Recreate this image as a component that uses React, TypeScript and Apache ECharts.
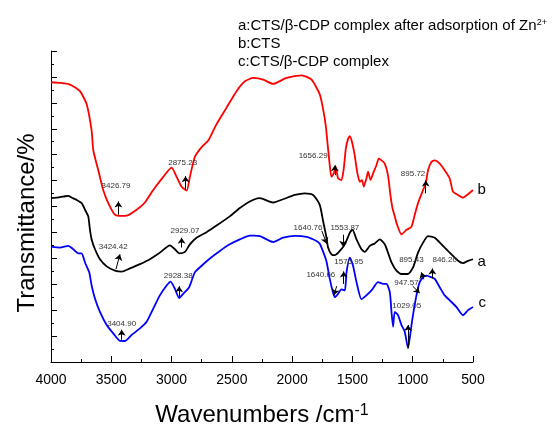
import React, { useEffect, useRef } from 'react';
import * as echarts from 'echarts';

// Wavenumber (cm-1) and transmittance (arbitrary offset units)
const redWave = [4000,3925,3843,3760,3704,3663,3649,3608,3567,3525,3470,3414,3373,3290,3221,3152,3069,3000,2958,2917,2875,2848,2807,2751,2696,2627,2544,2461,2392,2323,2241,2158,2047,1922,1839,1771,1743,1721,1702,1688,1674,1655,1638,1619,1591,1572,1555,1536,1522,1503,1481,1461,1439,1420,1406,1384,1370,1350,1329,1301,1282,1259,1232,1205,1185,1168,1149,1132,1093,1052,1011,983,956,914,892,873,845,817,776,735,693,666,624,583,541,500];
const redT = [21.59,21.54,21.41,20.90,19.89,17.85,16.32,14.80,13.27,12.26,11.37,11.27,11.29,11.75,12.31,13.27,14.29,15.00,14.29,13.53,13.23,14.29,15.82,16.58,17.09,18.36,19.63,20.90,21.66,21.92,21.79,21.46,21.92,22.12,21.79,20.65,19.50,18.23,16.45,15.18,14.29,14.55,15.06,14.16,14.04,14.93,16.45,17.22,17.42,16.96,15.94,14.68,13.91,14.04,13.53,14.16,14.68,14.04,14.55,15.18,15.69,15.56,15.31,14.42,12.89,11.88,11.24,10.66,9.84,10.20,10.43,11.37,12.26,13.27,13.78,14.80,15.44,15.56,15.31,14.80,14.16,13.15,12.89,12.69,12.95,13.27];

const blackWave = [4000,3925,3884,3857,3826,3787,3746,3718,3691,3677,3663,3635,3594,3538,3470,3414,3345,3262,3180,3097,3014,2972,2937,2889,2848,2793,2710,2627,2517,2434,2351,2268,2158,2075,1978,1895,1826,1771,1743,1715,1702,1674,1646,1605,1563,1522,1500,1466,1425,1398,1356,1315,1273,1232,1205,1176,1135,1093,1039,997,956,914,873,817,749,679,624,583,541,500];
const blackT = [12.64,12.72,12.79,12.82,12.68,12.51,12.26,11.75,11.24,10.22,9.46,8.70,7.93,7.38,7.05,6.97,7.22,7.55,7.93,8.44,9.00,8.70,8.39,8.50,9.08,9.59,10.02,10.53,11.24,11.88,12.39,12.64,12.31,12.56,12.89,13.02,12.89,12.13,10.86,9.59,8.83,8.31,8.24,8.57,9.08,9.97,10.22,9.46,8.70,8.50,8.96,9.15,9.46,9.08,8.44,7.68,7.05,6.79,6.79,7.30,8.44,9.21,9.72,9.59,8.96,8.31,7.81,7.63,7.81,7.93];

const blueWave = [4000,3925,3857,3815,3774,3746,3718,3683,3663,3635,3594,3538,3484,3428,3387,3331,3262,3207,3152,3097,3041,3008,2972,2937,2904,2854,2807,2751,2682,2599,2517,2434,2351,2268,2158,2075,1978,1881,1798,1771,1743,1715,1688,1660,1646,1619,1591,1563,1549,1522,1495,1466,1425,1384,1342,1287,1246,1218,1190,1176,1163,1149,1122,1093,1066,1039,1025,1002,969,942,914,886,845,817,776,735,693,638,583,541,500];
const blueT = [8.90,8.83,8.96,8.70,8.39,8.39,7.68,6.92,5.90,4.88,3.87,2.85,2.21,1.63,1.62,2.09,2.59,3.10,4.12,5.14,5.90,6.21,5.64,4.94,5.26,5.77,6.92,7.43,7.99,8.57,9.08,9.46,9.76,9.72,9.26,9.59,9.74,9.66,9.34,9.13,8.52,7.76,6.41,5.32,5.01,5.26,5.60,5.52,6.92,8.06,7.43,6.16,4.84,5.14,5.52,6.16,6.03,6.03,5.39,3.87,2.72,3.87,3.62,2.85,2.34,1.07,1.83,3.36,5.14,6.16,6.54,6.67,6.54,6.41,5.77,5.14,4.76,4.25,3.62,4.00,4.25];

// Peak labels: [text, wavenumber, transmittance]
const redPeaks: [string, number, number][] = [['3426.79', 3461, 13.61], ['2875.23', 2908, 15.36], ['1656.29', 1826, 15.94], ['895.72', 997, 14.54]];
const blackPeaks: [string, number, number][] = [['3424.42', 3484, 8.95], ['2929.07', 2889, 10.17], ['1640.76', 1868, 10.35], ['1553.87', 1563, 10.39], ['895.43', 1011, 7.93], ['846.20', 735, 7.93]];
const bluePeaks: [string, number, number][] = [['3404.90', 3414, 2.97], ['2928.38', 2945, 6.71], ['1640.66', 1762, 6.76], ['1576.95', 1531, 7.73], ['947.57', 1052, 6.16], ['1029.05', 1050, 4.38]];

// Arrows: [w1, t1, w2, t2] (head at second point)
const redArrows = [[3441, 11.37, 3441, 12.39], [2884, 13.27, 2884, 14.34], [1646, 14.42, 1646, 15.18], [892, 13.02, 892, 14.01]];
const blackArrows = [[3461, 7.17, 3428, 8.31], [2917, 8.83, 2917, 9.59], [1754, 10.12, 1713, 9.13], [1577, 9.82, 1577, 8.90], [909, 6.38, 929, 6.92], [837, 6.46, 837, 7.22]];
const blueArrows = [[3414, 1.71, 3414, 2.49], [2937, 4.94, 2937, 5.85], [1630, 5.85, 1655, 5.16], [1572, 6.03, 1572, 6.99], [1000, 5.85, 942, 5.32], [1039, 1.07, 1039, 2.85]];

const legendLines = ['a:CTS/β-CDP complex after adsorption of Zn{sup|2+}', 'b:CTS', 'c:CTS/β-CDP complex'];

const FONT = '"Liberation Sans", Arial, Helvetica, sans-serif';

function pairs(w: number[], t: number[]) {
  return w.map((x, i) => [x, t[i]]);
}

function peakMarks(list: [string, number, number][], curveName: string, endW: number, endT: number, endOffset: number[]) {
  return {
    symbol: 'circle',
    symbolSize: 1,
    silent: true,
    itemStyle: { color: 'rgba(0,0,0,0)' },
    label: { show: true, position: 'inside', fontSize: 8, color: '#333', fontFamily: FONT, formatter: (p: any) => p.name },
    data: [
      ...list.map(([text, w, t]) => ({ name: text, coord: [w, t] })),
      {
        name: curveName,
        coord: [endW, endT],
        label: { position: 'right', distance: 4, fontSize: 15, color: '#000', fontFamily: FONT, offset: endOffset },
      },
    ],
  };
}

function arrowMarks(list: number[][]) {
  return {
    silent: true,
    symbol: ['none', 'arrow'],
    symbolSize: 6,
    lineStyle: { color: '#000', width: 1, type: 'solid' },
    label: { show: false },
    emphasis: { disabled: true },
    data: list.map(([w1, t1, w2, t2]) => [{ coord: [w1, t1] }, { coord: [w2, t2] }]),
  };
}

function makeSeries(name: string, w: number[], t: number[], color: string, peaks: any, arrows: any, endOffset: number[]) {
  return {
    type: 'line',
    name,
    data: pairs(w, t),
    showSymbol: false,
    symbol: 'none',
    smooth: 0.2,
    lineStyle: { color, width: 1.8 },
    itemStyle: { color },
    emphasis: { disabled: true },
    markPoint: peakMarks(peaks, name, w[w.length - 1], t[t.length - 1], endOffset),
    markLine: arrowMarks(arrows),
  };
}

export default function App() {
  const ref = useRef<HTMLDivElement>(null);
  useEffect(() => {
    if (!ref.current) return;
    const chart = echarts.init(ref.current, null, { renderer: 'svg' });
    chart.setOption({
      animation: false,
      textStyle: { fontFamily: FONT },
      grid: { left: 51, right: 80, top: 51, bottom: 64 },
      xAxis: {
        type: 'value',
        inverse: true,
        min: 500,
        max: 4000,
        interval: 500,
        name: 'Wavenumbers /cm{sup|-1}',
        nameLocation: 'middle',
        nameGap: 39,
        nameTextStyle: {
          fontSize: 24, color: '#000', fontFamily: FONT,
          rich: { sup: { fontSize: 16, color: '#000', fontFamily: FONT, verticalAlign: 'top' } },
        },
        axisLine: { lineStyle: { color: '#000', width: 1 } },
        axisTick: { inside: true, length: 6, lineStyle: { color: '#000' } },
        minorTick: { show: true, splitNumber: 2, length: 3, lineStyle: { color: '#000' } },
        axisLabel: { fontSize: 14, color: '#000', margin: 10, fontFamily: FONT, formatter: (v: number) => String(v) },
        splitLine: { show: false },
      },
      yAxis: {
        type: 'value',
        min: 0,
        max: 24,
        interval: 2,
        axisLine: { show: true, lineStyle: { color: '#000', width: 1 } },
        axisTick: { show: true, inside: true, length: 6, lineStyle: { color: '#000' } },
        minorTick: { show: true, splitNumber: 2, length: 3, lineStyle: { color: '#000' } },
        axisLabel: { show: false },
        splitLine: { show: false },
      },
      series: [
        makeSeries('b', redWave, redT, '#ff0000', redPeaks, redArrows, [0, -2]),
        makeSeries('a', blackWave, blackT, '#000000', blackPeaks, blackArrows, [0, 1.5]),
        makeSeries('c', blueWave, blueT, '#0000ff', bluePeaks, blueArrows, [1, -5]),
      ],
      graphic: [
        ...legendLines.map((txt, i) => ({
          type: 'text',
          x: 238,
          y: 24.5 + i * 18,
          style: {
            text: txt,
            fontSize: 15,
            fontFamily: FONT,
            fill: '#000',
            verticalAlign: 'middle',
            rich: { sup: { fontSize: 9, fontFamily: FONT, fill: '#000', verticalAlign: 'top' } },
          },
        })),
        {
          type: 'text',
          x: 25,
          y: 223,
          rotation: Math.PI / 2,
          style: { text: 'Transmittance/%', fontSize: 24, fontFamily: FONT, fill: '#000', align: 'center', verticalAlign: 'middle' },
        },
      ],
    });
    return () => chart.dispose();
  }, []);
  return <div ref={ref} style={{ position: 'fixed', left: 0, top: 0, width: 553, height: 430 }} />;
}
